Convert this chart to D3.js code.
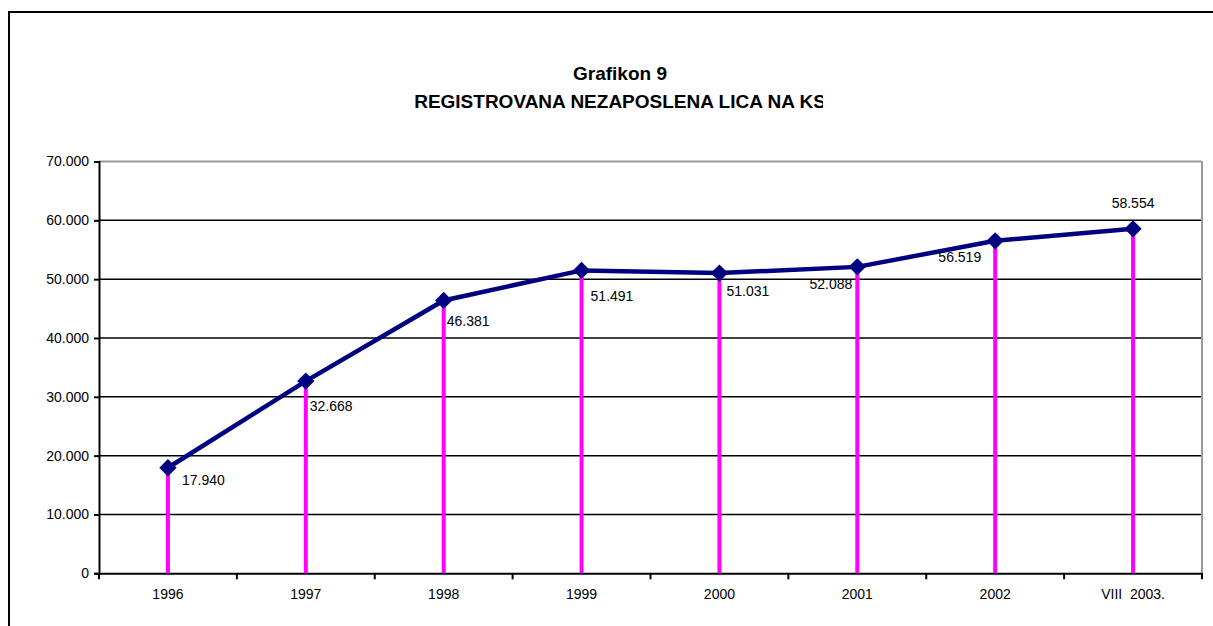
<!DOCTYPE html>
<html>
<head>
<meta charset="utf-8">
<script src="https://d3js.org/d3.v7.min.js"></script>
<style>
  body { margin: 0; background: #fff; }
  svg { display: block; font-family: "Liberation Sans", Arial, sans-serif; }
  text { white-space: pre; }
</style>
</head>
<body>
<svg id="chart" width="1213" height="626"></svg>
<script>
// data
const categories = ["1996", "1997", "1998", "1999", "2000", "2001", "2002", "VIII  2003."];
const values = [17940, 32668, 46381, 51491, 51031, 52088, 56519, 58554];
const yTicks = [0, 10000, 20000, 30000, 40000, 50000, 60000, 70000];

// where each value label sits relative to its point (Excel auto placement)
const labelPos = [
  {dx: 14, dy: 17, anchor: "start"},
  {dx: 4, dy: 30, anchor: "start"},
  {dx: 3, dy: 26, anchor: "start"},
  {dx: 9, dy: 31, anchor: "start"},
  {dx: 7, dy: 23, anchor: "start"},
  {dx: -5, dy: 22, anchor: "end"},
  {dx: -14, dy: 21, anchor: "end"},
  {dx: 0, dy: -21, anchor: "middle"}
];

const svg = d3.select("#chart");
const plot = {left: 99, right: 1202, top: 161.5, bottom: 573.3};
const fontSize = 14;

// outer chart frame (runs off the page on the right and bottom)
svg.append("rect")
  .attr("x", 9).attr("y", 12)
  .attr("width", 1250).attr("height", 700)
  .attr("fill", "none").attr("stroke", "#000").attr("stroke-width", 2);

// title, cut off on the right like the original
svg.append("clipPath").attr("id", "titleClip")
  .append("rect").attr("x", 0).attr("y", 0).attr("width", 823).attr("height", 140);
const title = svg.append("g").attr("clip-path", "url(#titleClip)")
  .attr("font-weight", "bold").attr("font-size", 19).attr("text-anchor", "middle");
title.append("text").attr("x", 620).attr("y", 80).text("Grafikon 9");
title.append("text").attr("x", 620).attr("y", 108).text("REGISTROVANA NEZAPOSLENA LICA NA KS");

const x = d3.scaleBand().domain(categories).range([plot.left, plot.right]);
const y = d3.scaleLinear().domain([0, 70000]).range([plot.bottom, plot.top]);

const fmt = v => d3.format(",")(v).replace(/,/g, ".");

// gridlines
svg.append("g").selectAll("line")
  .data(yTicks.slice(1))
  .join("line")
  .attr("x1", plot.left).attr("x2", plot.right)
  .attr("y1", d => y(d)).attr("y2", d => y(d))
  .attr("stroke", d => d === 70000 ? "#999" : "#000")
  .attr("stroke-width", d => d === 70000 ? 2 : 1.5);

// right edge of plot area
svg.append("line")
  .attr("x1", plot.right).attr("x2", plot.right)
  .attr("y1", plot.top).attr("y2", plot.bottom)
  .attr("stroke", "#999").attr("stroke-width", 2);

// y axis
const yAxis = svg.append("g")
  .attr("transform", `translate(${plot.left},0)`)
  .call(d3.axisLeft(y).tickValues(yTicks).tickFormat(fmt).tickSize(5).tickPadding(5));
yAxis.select(".domain").attr("stroke-width", 2);
yAxis.selectAll(".tick line").attr("stroke-width", 2);
yAxis.selectAll("text").attr("font-size", fontSize).attr("font-family", "Liberation Sans, Arial, sans-serif").attr("fill", "#000");

// x axis with ticks on category boundaries
const xAxis = svg.append("g")
  .attr("transform", `translate(0,${plot.bottom})`)
  .call(d3.axisBottom(x).tickSize(0).tickPadding(16));
xAxis.select(".domain").attr("stroke-width", 2);
xAxis.selectAll("text").attr("font-size", fontSize).attr("font-family", "Liberation Sans, Arial, sans-serif").attr("fill", "#000");
xAxis.selectAll(".bound")
  .data(d3.range(categories.length + 1))
  .join("line")
  .attr("class", "bound")
  .attr("x1", i => plot.left + i * x.bandwidth())
  .attr("x2", i => plot.left + i * x.bandwidth())
  .attr("y1", 0).attr("y2", 6)
  .attr("stroke", "#000").attr("stroke-width", 2);

const cx = d => x(d) + x.bandwidth() / 2;

// magenta drop lines
svg.append("g").selectAll("line")
  .data(values)
  .join("line")
  .attr("x1", (d, i) => cx(categories[i]))
  .attr("x2", (d, i) => cx(categories[i]))
  .attr("y1", d => y(d)).attr("y2", y(0))
  .attr("stroke", "#ff00ff").attr("stroke-width", 4);

// series line
const line = d3.line()
  .x((d, i) => cx(categories[i]))
  .y(d => y(d));
svg.append("path")
  .datum(values)
  .attr("d", line)
  .attr("fill", "none")
  .attr("stroke", "#000080")
  .attr("stroke-width", 4.5);

// diamond markers
svg.append("g").selectAll("path")
  .data(values)
  .join("path")
  .attr("d", d3.symbol(d3.symbolSquare, 150))
  .attr("transform", (d, i) => `translate(${cx(categories[i])},${y(d)}) rotate(45)`)
  .attr("fill", "#000080");

// value labels
svg.append("g").selectAll("text")
  .data(values)
  .join("text")
  .attr("x", (d, i) => cx(categories[i]) + labelPos[i].dx)
  .attr("y", (d, i) => y(d) + labelPos[i].dy)
  .attr("text-anchor", (d, i) => labelPos[i].anchor)
  .attr("font-size", fontSize)
  .attr("fill", "#000")
  .text(fmt);
</script>
</body>
</html>
